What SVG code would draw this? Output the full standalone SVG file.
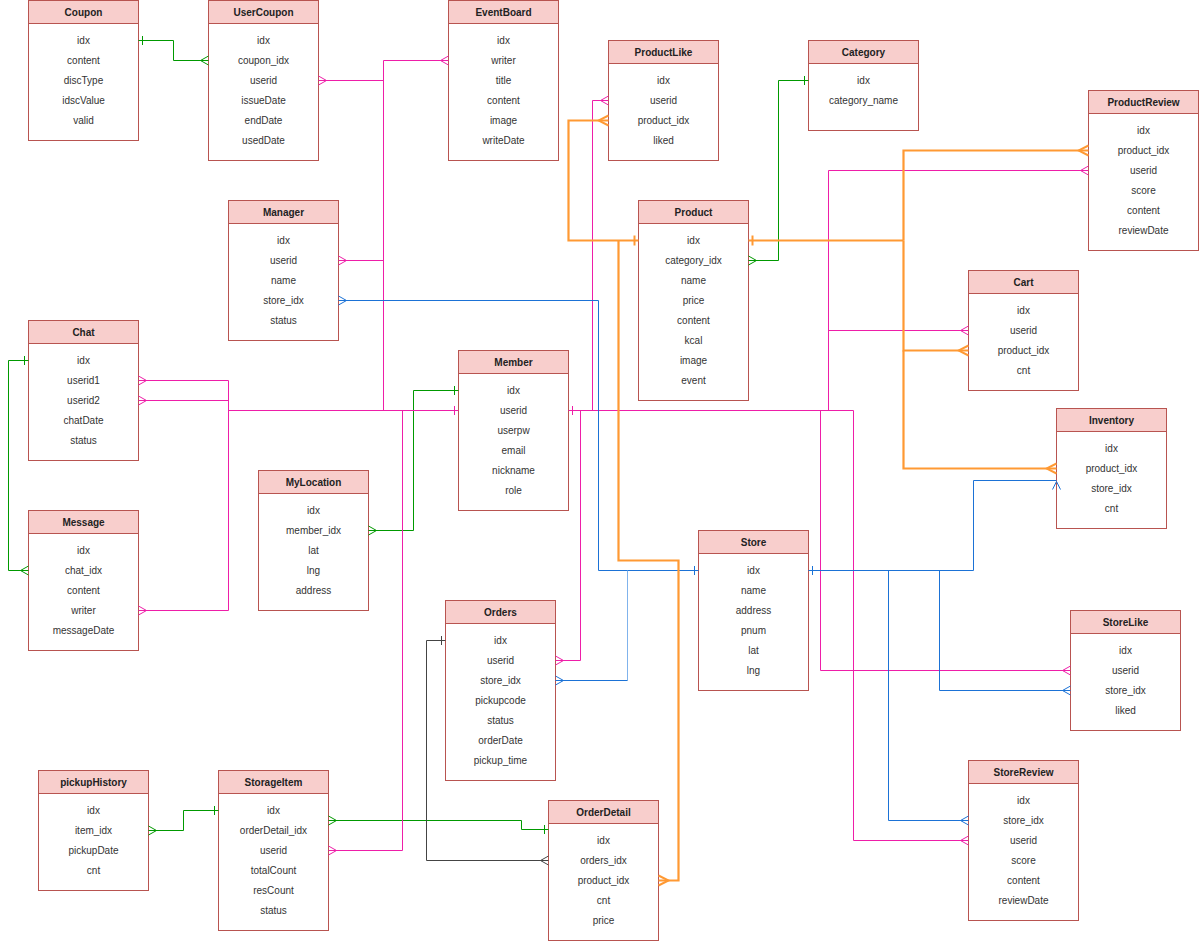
<svg xmlns="http://www.w3.org/2000/svg" width="1199" height="941" viewBox="0 0 1199 941">
  <style>
    .box { fill: #ffffff; stroke: #b85450; stroke-width: 1; }
    .hd { fill: #f8cecc; stroke: #b85450; stroke-width: 1; }
    .th { font-family: "Liberation Sans", Arial, Helvetica, sans-serif; font-size: 10px; font-weight: bold; fill: #222222; text-anchor: middle; }
    .tr { font-family: "Liberation Sans", Arial, Helvetica, sans-serif; font-size: 10px; fill: #333333; text-anchor: middle; }
    .c { fill: none; stroke-width: 1; }
    .g { stroke: #009900; }
    .p { stroke: #ee1ea8; }
    .b { stroke: #1b72d6; }
    .lb { stroke: #80b3ec; }
    .o { stroke: #ff9933; stroke-width: 2.2; }
    .k { stroke: #444444; }
  </style>
  <defs>
    <!-- one / many line ends, per line colour -->
    <marker id="one-g" markerUnits="userSpaceOnUse" viewBox="-12 -12 24 24" markerWidth="24" markerHeight="24" refX="0" refY="0" orient="auto"><path d="M4,-4.5V4.5" fill="none" stroke="#009900"/></marker>
    <marker id="many-g" markerUnits="userSpaceOnUse" viewBox="-12 -12 24 24" markerWidth="24" markerHeight="24" refX="0" refY="0" orient="auto"><path d="M0,-4.5L-8,0L0,4.5" fill="none" stroke="#009900"/></marker>
    <marker id="one-p" markerUnits="userSpaceOnUse" viewBox="-12 -12 24 24" markerWidth="24" markerHeight="24" refX="0" refY="0" orient="auto"><path d="M4,-4.5V4.5" fill="none" stroke="#ee1ea8"/></marker>
    <marker id="many-p" markerUnits="userSpaceOnUse" viewBox="-12 -12 24 24" markerWidth="24" markerHeight="24" refX="0" refY="0" orient="auto"><path d="M0,-4.5L-8,0L0,4.5" fill="none" stroke="#ee1ea8"/></marker>
    <marker id="one-b" markerUnits="userSpaceOnUse" viewBox="-12 -12 24 24" markerWidth="24" markerHeight="24" refX="0" refY="0" orient="auto"><path d="M4,-4.5V4.5" fill="none" stroke="#1b72d6"/></marker>
    <marker id="many-b" markerUnits="userSpaceOnUse" viewBox="-12 -12 24 24" markerWidth="24" markerHeight="24" refX="0" refY="0" orient="auto"><path d="M0,-4.5L-8,0L0,4.5" fill="none" stroke="#1b72d6"/></marker>
    <marker id="one-o" markerUnits="userSpaceOnUse" viewBox="-12 -12 24 24" markerWidth="24" markerHeight="24" refX="0" refY="0" orient="auto"><path d="M4,-5V5" fill="none" stroke="#ff9933" stroke-width="2"/></marker>
    <marker id="many-o" markerUnits="userSpaceOnUse" viewBox="-12 -12 24 24" markerWidth="24" markerHeight="24" refX="0" refY="0" orient="auto"><path d="M0,-5L-10,0L0,5" fill="none" stroke="#ff9933" stroke-width="2"/></marker>
    <marker id="one-k" markerUnits="userSpaceOnUse" viewBox="-12 -12 24 24" markerWidth="24" markerHeight="24" refX="0" refY="0" orient="auto"><path d="M4,-4.5V4.5" fill="none" stroke="#444444"/></marker>
    <marker id="many-k" markerUnits="userSpaceOnUse" viewBox="-12 -12 24 24" markerWidth="24" markerHeight="24" refX="0" refY="0" orient="auto"><path d="M0,-4.5L-8,0L0,4.5" fill="none" stroke="#444444"/></marker>
  </defs>

  <g transform="translate(0.5,0.5)">
  <!-- tables -->
  <g id="Coupon" transform="translate(28,0)">
    <rect class="box" width="110" height="140"/><rect class="hd" width="110" height="23"/>
    <text class="th" x="55" y="15.5">Coupon</text>
    <text class="tr" x="55" y="43.5">idx</text><text class="tr" x="55" y="63.5">content</text><text class="tr" x="55" y="83.5">discType</text><text class="tr" x="55" y="103.5">idscValue</text><text class="tr" x="55" y="123.5">valid</text>
  </g>
  <g id="UserCoupon" transform="translate(208,0)">
    <rect class="box" width="110" height="160"/><rect class="hd" width="110" height="23"/>
    <text class="th" x="55" y="15.5">UserCoupon</text>
    <text class="tr" x="55" y="43.5">idx</text><text class="tr" x="55" y="63.5">coupon_idx</text><text class="tr" x="55" y="83.5">userid</text><text class="tr" x="55" y="103.5">issueDate</text><text class="tr" x="55" y="123.5">endDate</text><text class="tr" x="55" y="143.5">usedDate</text>
  </g>
  <g id="EventBoard" transform="translate(448,0)">
    <rect class="box" width="110" height="160"/><rect class="hd" width="110" height="23"/>
    <text class="th" x="55" y="15.5">EventBoard</text>
    <text class="tr" x="55" y="43.5">idx</text><text class="tr" x="55" y="63.5">writer</text><text class="tr" x="55" y="83.5">title</text><text class="tr" x="55" y="103.5">content</text><text class="tr" x="55" y="123.5">image</text><text class="tr" x="55" y="143.5">writeDate</text>
  </g>
  <g id="ProductLike" transform="translate(608,40)">
    <rect class="box" width="110" height="120"/><rect class="hd" width="110" height="23"/>
    <text class="th" x="55" y="15.5">ProductLike</text>
    <text class="tr" x="55" y="43.5">idx</text><text class="tr" x="55" y="63.5">userid</text><text class="tr" x="55" y="83.5">product_idx</text><text class="tr" x="55" y="103.5">liked</text>
  </g>
  <g id="Category" transform="translate(808,40)">
    <rect class="box" width="110" height="90"/><rect class="hd" width="110" height="23"/>
    <text class="th" x="55" y="15.5">Category</text>
    <text class="tr" x="55" y="43.5">idx</text><text class="tr" x="55" y="63.5">category_name</text>
  </g>
  <g id="ProductReview" transform="translate(1088,90)">
    <rect class="box" width="110" height="160"/><rect class="hd" width="110" height="23"/>
    <text class="th" x="55" y="15.5">ProductReview</text>
    <text class="tr" x="55" y="43.5">idx</text><text class="tr" x="55" y="63.5">product_idx</text><text class="tr" x="55" y="83.5">userid</text><text class="tr" x="55" y="103.5">score</text><text class="tr" x="55" y="123.5">content</text><text class="tr" x="55" y="143.5">reviewDate</text>
  </g>
  <g id="Manager" transform="translate(228,200)">
    <rect class="box" width="110" height="140"/><rect class="hd" width="110" height="23"/>
    <text class="th" x="55" y="15.5">Manager</text>
    <text class="tr" x="55" y="43.5">idx</text><text class="tr" x="55" y="63.5">userid</text><text class="tr" x="55" y="83.5">name</text><text class="tr" x="55" y="103.5">store_idx</text><text class="tr" x="55" y="123.5">status</text>
  </g>
  <g id="Product" transform="translate(638,200)">
    <rect class="box" width="110" height="200"/><rect class="hd" width="110" height="23"/>
    <text class="th" x="55" y="15.5">Product</text>
    <text class="tr" x="55" y="43.5">idx</text><text class="tr" x="55" y="63.5">category_idx</text><text class="tr" x="55" y="83.5">name</text><text class="tr" x="55" y="103.5">price</text><text class="tr" x="55" y="123.5">content</text><text class="tr" x="55" y="143.5">kcal</text><text class="tr" x="55" y="163.5">image</text><text class="tr" x="55" y="183.5">event</text>
  </g>
  <g id="Cart" transform="translate(968,270)">
    <rect class="box" width="110" height="120"/><rect class="hd" width="110" height="23"/>
    <text class="th" x="55" y="15.5">Cart</text>
    <text class="tr" x="55" y="43.5">idx</text><text class="tr" x="55" y="63.5">userid</text><text class="tr" x="55" y="83.5">product_idx</text><text class="tr" x="55" y="103.5">cnt</text>
  </g>
  <g id="Chat" transform="translate(28,320)">
    <rect class="box" width="110" height="140"/><rect class="hd" width="110" height="23"/>
    <text class="th" x="55" y="15.5">Chat</text>
    <text class="tr" x="55" y="43.5">idx</text><text class="tr" x="55" y="63.5">userid1</text><text class="tr" x="55" y="83.5">userid2</text><text class="tr" x="55" y="103.5">chatDate</text><text class="tr" x="55" y="123.5">status</text>
  </g>
  <g id="Member" transform="translate(458,350)">
    <rect class="box" width="110" height="160"/><rect class="hd" width="110" height="23"/>
    <text class="th" x="55" y="15.5">Member</text>
    <text class="tr" x="55" y="43.5">idx</text><text class="tr" x="55" y="63.5">userid</text><text class="tr" x="55" y="83.5">userpw</text><text class="tr" x="55" y="103.5">email</text><text class="tr" x="55" y="123.5">nickname</text><text class="tr" x="55" y="143.5">role</text>
  </g>
  <g id="Inventory" transform="translate(1056,408)">
    <rect class="box" width="110" height="120"/><rect class="hd" width="110" height="23"/>
    <text class="th" x="55" y="15.5">Inventory</text>
    <text class="tr" x="55" y="43.5">idx</text><text class="tr" x="55" y="63.5">product_idx</text><text class="tr" x="55" y="83.5">store_idx</text><text class="tr" x="55" y="103.5">cnt</text>
  </g>
  <g id="MyLocation" transform="translate(258,470)">
    <rect class="box" width="110" height="140"/><rect class="hd" width="110" height="23"/>
    <text class="th" x="55" y="15.5">MyLocation</text>
    <text class="tr" x="55" y="43.5">idx</text><text class="tr" x="55" y="63.5">member_idx</text><text class="tr" x="55" y="83.5">lat</text><text class="tr" x="55" y="103.5">lng</text><text class="tr" x="55" y="123.5">address</text>
  </g>
  <g id="Message" transform="translate(28,510)">
    <rect class="box" width="110" height="140"/><rect class="hd" width="110" height="23"/>
    <text class="th" x="55" y="15.5">Message</text>
    <text class="tr" x="55" y="43.5">idx</text><text class="tr" x="55" y="63.5">chat_idx</text><text class="tr" x="55" y="83.5">content</text><text class="tr" x="55" y="103.5">writer</text><text class="tr" x="55" y="123.5">messageDate</text>
  </g>
  <g id="Store" transform="translate(698,530)">
    <rect class="box" width="110" height="160"/><rect class="hd" width="110" height="23"/>
    <text class="th" x="55" y="15.5">Store</text>
    <text class="tr" x="55" y="43.5">idx</text><text class="tr" x="55" y="63.5">name</text><text class="tr" x="55" y="83.5">address</text><text class="tr" x="55" y="103.5">pnum</text><text class="tr" x="55" y="123.5">lat</text><text class="tr" x="55" y="143.5">lng</text>
  </g>
  <g id="Orders" transform="translate(445,600)">
    <rect class="box" width="110" height="180"/><rect class="hd" width="110" height="23"/>
    <text class="th" x="55" y="15.5">Orders</text>
    <text class="tr" x="55" y="43.5">idx</text><text class="tr" x="55" y="63.5">userid</text><text class="tr" x="55" y="83.5">store_idx</text><text class="tr" x="55" y="103.5">pickupcode</text><text class="tr" x="55" y="123.5">status</text><text class="tr" x="55" y="143.5">orderDate</text><text class="tr" x="55" y="163.5">pickup_time</text>
  </g>
  <g id="StoreLike" transform="translate(1070,610)">
    <rect class="box" width="110" height="120"/><rect class="hd" width="110" height="23"/>
    <text class="th" x="55" y="15.5">StoreLike</text>
    <text class="tr" x="55" y="43.5">idx</text><text class="tr" x="55" y="63.5">userid</text><text class="tr" x="55" y="83.5">store_idx</text><text class="tr" x="55" y="103.5">liked</text>
  </g>
  <g id="pickupHistory" transform="translate(38,770)">
    <rect class="box" width="110" height="120"/><rect class="hd" width="110" height="23"/>
    <text class="th" x="55" y="15.5">pickupHistory</text>
    <text class="tr" x="55" y="43.5">idx</text><text class="tr" x="55" y="63.5">item_idx</text><text class="tr" x="55" y="83.5">pickupDate</text><text class="tr" x="55" y="103.5">cnt</text>
  </g>
  <g id="StorageItem" transform="translate(218,770)">
    <rect class="box" width="110" height="160"/><rect class="hd" width="110" height="23"/>
    <text class="th" x="55" y="15.5">StorageItem</text>
    <text class="tr" x="55" y="43.5">idx</text><text class="tr" x="55" y="63.5">orderDetail_idx</text><text class="tr" x="55" y="83.5">userid</text><text class="tr" x="55" y="103.5">totalCount</text><text class="tr" x="55" y="123.5">resCount</text><text class="tr" x="55" y="143.5">status</text>
  </g>
  <g id="OrderDetail" transform="translate(548,800)">
    <rect class="box" width="110" height="140"/><rect class="hd" width="110" height="23"/>
    <text class="th" x="55" y="15.5">OrderDetail</text>
    <text class="tr" x="55" y="43.5">idx</text><text class="tr" x="55" y="63.5">orders_idx</text><text class="tr" x="55" y="83.5">product_idx</text><text class="tr" x="55" y="103.5">cnt</text><text class="tr" x="55" y="123.5">price</text>
  </g>
  <g id="StoreReview" transform="translate(968,760)">
    <rect class="box" width="110" height="160"/><rect class="hd" width="110" height="23"/>
    <text class="th" x="55" y="15.5">StoreReview</text>
    <text class="tr" x="55" y="43.5">idx</text><text class="tr" x="55" y="63.5">store_idx</text><text class="tr" x="55" y="83.5">userid</text><text class="tr" x="55" y="103.5">score</text><text class="tr" x="55" y="123.5">content</text><text class="tr" x="55" y="143.5">reviewDate</text>
  </g>

  <!-- relations -->
  <g id="connectors">
    <!-- green: simple one-to-many -->
    <path class="c g" d="M138,40H173V60H208" marker-start="url(#one-g)" marker-end="url(#many-g)"/>
    <path class="c g" d="M808,80H778V260H748" marker-start="url(#one-g)" marker-end="url(#many-g)"/>
    <path class="c g" d="M28,360H8V570H28" marker-start="url(#one-g)" marker-end="url(#many-g)"/>
    <path class="c g" d="M458,390H413V530H368" marker-start="url(#one-g)" marker-end="url(#many-g)"/>
    <path class="c g" d="M218,810H183V830H148" marker-start="url(#one-g)" marker-end="url(#many-g)"/>
    <path class="c g" d="M548,829H521V820H328" marker-start="url(#one-g)" marker-end="url(#many-g)"/>

    <!-- pink: Member.userid, left trunk -->
    <path class="c p" d="M458,410H228" marker-start="url(#one-p)"/>
    <path class="c p" d="M383,410V60H448" marker-end="url(#many-p)"/>
    <path class="c p" d="M383,80H318" marker-end="url(#many-p)"/>
    <path class="c p" d="M383,260H338" marker-end="url(#many-p)"/>
    <path class="c p" d="M228,380V610"/>
    <path class="c p" d="M228,380H138" marker-end="url(#many-p)"/>
    <path class="c p" d="M228,400H138" marker-end="url(#many-p)"/>
    <path class="c p" d="M228,610H138" marker-end="url(#many-p)"/>
    <path class="c p" d="M402,410V850H328" marker-end="url(#many-p)"/>
    <!-- pink: Member.userid, right trunk -->
    <path class="c p" d="M568,410H853" marker-start="url(#one-p)"/>
    <path class="c p" d="M580,410V660H555" marker-end="url(#many-p)"/>
    <path class="c p" d="M592,410V100H608" marker-end="url(#many-p)"/>
    <path class="c p" d="M828,410V170H1088" marker-end="url(#many-p)"/>
    <path class="c p" d="M828,330H968" marker-end="url(#many-p)"/>
    <path class="c p" d="M820,410V670H1070" marker-end="url(#many-p)"/>
    <path class="c p" d="M853,410V840H968" marker-end="url(#many-p)"/>

    <!-- blue: Store.idx -->
    <path class="c b" d="M698,570H598V300H338" marker-start="url(#one-b)" marker-end="url(#many-b)"/>
    <path class="c lb" d="M627,570V680"/>
    <path class="c b" d="M627,680H555" marker-end="url(#many-b)"/>
    <path class="c b" d="M808,570H973V480H1056" marker-start="url(#one-b)"/>
    <path class="c b" d="M1052,489L1056,481L1060,489"/>
    <path class="c b" d="M888,570V820H968" marker-end="url(#many-b)"/>
    <path class="c b" d="M939,570V690H1070" marker-end="url(#many-b)"/>

    <!-- orange: Product.idx -->
    <path class="c o" d="M638,240H568V120H608" marker-start="url(#one-o)" marker-end="url(#many-o)"/>
    <path class="c o" d="M618,240V560H678V880H658" marker-end="url(#many-o)"/>
    <path class="c o" d="M748,240H903" marker-start="url(#one-o)"/>
    <path class="c o" d="M903,240V150H1088" marker-end="url(#many-o)"/>
    <path class="c o" d="M903,240V350H968" marker-end="url(#many-o)"/>
    <path class="c o" d="M903,350V468H1056" marker-end="url(#many-o)"/>

    <!-- grey: Orders.idx -->
    <path class="c k" d="M445,640H426V860H548" marker-start="url(#one-k)" marker-end="url(#many-k)"/>
  </g>
  </g>
</svg>
